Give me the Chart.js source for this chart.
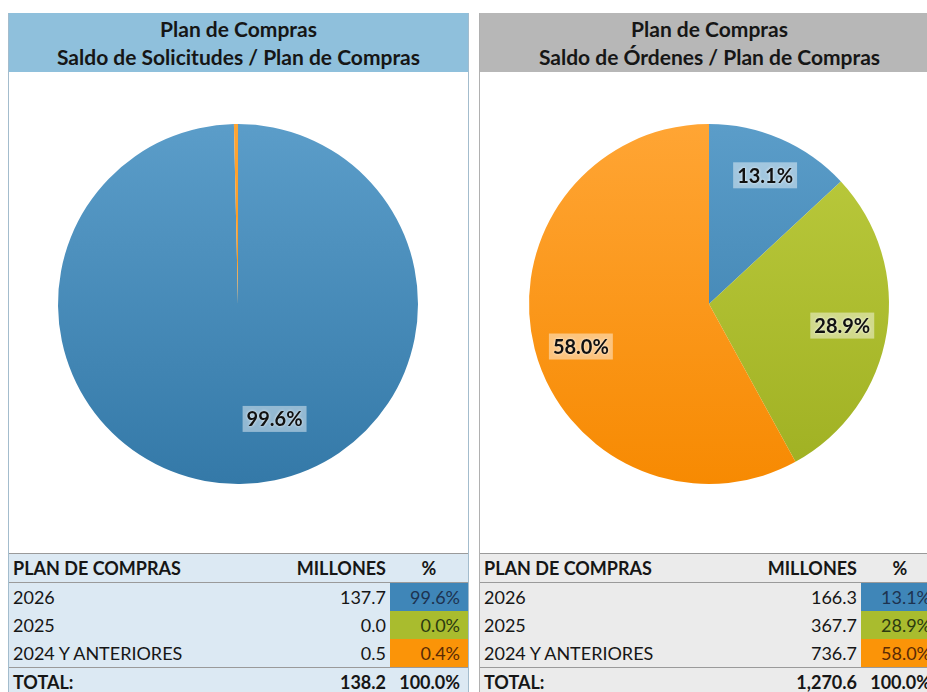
<!DOCTYPE html>
<html>
<head>
<meta charset="utf-8">
<script src="https://cdn.jsdelivr.net/npm/chart.js@4.4.1/dist/chart.umd.min.js"></script>
<style>
	body { margin: 0; background: #ffffff; width: 927px; height: 692px; overflow: hidden; position: relative; font-family: Lato, "Open Sans", sans-serif; color: #161616; }
	.panel { position: absolute; top: 13px; width: 459px; height: 700px; border-left: 1px solid #a3bccd; border-right: 1px solid #a3bccd; }
	.panel.gray { border-color: #b0b0b0; }
	.title { height: 59px; background: #8fc0dc; text-align: center; font-weight: bold; font-size: 21px; line-height: 28px; padding-top: 2px; box-sizing: border-box; }
	.gray .title { background: #b7b7b7; }
	.chartbox { position: relative; height: 481px; background: #ffffff; }
	table { border-collapse: collapse; width: 459px; table-layout: fixed; font-size: 18px; }
	td { height: 28px; padding: 0 4px; white-space: nowrap; }
	.blue table { background: #dce9f3; }
	.gray table { background: #ebebeb; }
	tr.head td { font-weight: bold; border-top: 1px solid #9a9a9a; border-bottom: 1px solid #9a9a9a; }
	tr.total td { font-weight: bold; border-top: 1px solid #9a9a9a; }
	td.num { text-align: right; }
	td.pct { text-align: right; padding-right: 8px; }
	tr.head td.pct { text-align: center; padding-right: 4px; }
</style>
</head>
<body>
<div class="panel blue" style="left:8px">
	<div class="title">Plan de Compras<br>Saldo de Solicitudes / Plan de Compras</div>
	<div class="chartbox"><canvas id="pieSolicitudes"></canvas></div>
	<table id="tblSolicitudes"></table>
</div>
<div class="panel gray" style="left:479px">
	<div class="title">Plan de Compras<br>Saldo de Órdenes / Plan de Compras</div>
	<div class="chartbox"><canvas id="pieOrdenes"></canvas></div>
	<table id="tblOrdenes"></table>
</div>
<script>
// categories shared by both charts
const categories = ['2026', '2025', '2024 Y ANTERIORES'];

// millones
const solicitudesValues = [137.7, 0.0, 0.5];
const solicitudesTotal = 138.2;
const ordenesValues = [166.3, 367.7, 736.7];
const ordenesTotal = 1270.6;

// slice colours: [light, dark] for the vertical shading, plus text colour in the table
const sliceColors = [
	['#5b9dc9', '#3479a8'],
	['#bccb3e', '#9fb022'],
	['#ffa534', '#f78a02']
];
const cellColors = ['#3f86b8', '#a9bc2e', '#fb9408'];
const cellText = ['#1d3350', '#2c3a10', '#5a2a05'];

function pct(v, total) {
	return (v / total * 100).toFixed(1) + '%';
}

// shaded fill per slice, made once the chart area is known
function sliceFill(context) {
	const area = context.chart.chartArea;
	const pair = sliceColors[context.dataIndex];
	if (!area) {
		return pair[1];
	}
	const g = context.chart.ctx.createLinearGradient(0, area.top, 0, area.bottom);
	g.addColorStop(0, pair[0]);
	g.addColorStop(1, pair[1]);
	return g;
}

// percentage labels drawn on the slices, with a soft white box behind
const sliceLabels = {
	id: 'sliceLabels',
	afterDatasetsDraw(chart, args, opts) {
		const ctx = chart.ctx;
		const data = chart.data.datasets[0].data;
		const total = data.reduce((a, b) => a + b, 0);
		const meta = chart.getDatasetMeta(0);
		meta.data.forEach((arc, i) => {
			if (data[i] / total < 0.01) {
				return;
			}
			const p = arc.getProps(['x', 'y', 'startAngle', 'endAngle', 'outerRadius'], true);
			const shift = (opts.angleShift && opts.angleShift[i]) || 0;
			const mid = (p.startAngle + p.endAngle) / 2 + shift * Math.PI / 180;
			const r = p.outerRadius * ((opts.radius && opts.radius[i]) || 0.75);
			const x = p.x + Math.cos(mid) * r;
			const y = p.y + Math.sin(mid) * r;
			const text = pct(data[i], total);
			ctx.save();
			ctx.font = 'bold 20px Lato, "Open Sans", sans-serif';
			const w = ctx.measureText(text).width;
			ctx.fillStyle = 'rgba(255,255,255,0.45)';
			ctx.fillRect(x - w / 2 - 4, y - 13, w + 8, 26);
			ctx.shadowColor = 'rgba(255,255,255,0.9)';
			ctx.shadowBlur = 3;
			ctx.fillStyle = '#111111';
			ctx.textAlign = 'center';
			ctx.textBaseline = 'middle';
			ctx.fillText(text, x, y + 1);
			ctx.restore();
		});
	}
};

function makePie(canvasId, values, labelOpts) {
	return new Chart(document.getElementById(canvasId), {
		type: 'pie',
		data: {
			labels: categories,
			datasets: [{
				data: values,
				backgroundColor: sliceFill,
				borderWidth: 0
			}]
		},
		options: {
			responsive: true,
			maintainAspectRatio: false,
			animation: false,
			layout: {
				padding: { top: 52, bottom: 69, left: 49, right: 50 }
			},
			plugins: {
				legend: { display: false },
				tooltip: { enabled: false },
				sliceLabels: labelOpts
			}
		},
		plugins: [sliceLabels]
	});
}

function fillTable(tableId, values, total) {
	const rows = [];
	rows.push('<colgroup><col style="width:263px"><col style="width:118px"><col style="width:78px"></colgroup>');
	rows.push('<tr class="head"><td>PLAN DE COMPRAS</td><td class="num">MILLONES</td><td class="pct">%</td></tr>');
	categories.forEach((cat, i) => {
		rows.push('<tr><td>' + cat + '</td><td class="num">' + values[i].toFixed(1) + '</td>' +
			'<td class="pct" style="background:' + cellColors[i] + ';color:' + cellText[i] + '">' +
			pct(values[i], total) + '</td></tr>');
	});
	const totalText = total.toLocaleString('en-US', { minimumFractionDigits: 1, maximumFractionDigits: 1 });
	rows.push('<tr class="total"><td>TOTAL:</td><td class="num">' + totalText + '</td><td class="pct">100.0%</td></tr>');
	document.getElementById(tableId).innerHTML = rows.join('');
}

makePie('pieSolicitudes', solicitudesValues, { radius: [0.67], angleShift: [-17] });
makePie('pieOrdenes', ordenesValues, { radius: [0.78, 0.75, 0.75], angleShift: [0, 0, -4] });
fillTable('tblSolicitudes', solicitudesValues, solicitudesTotal);
fillTable('tblOrdenes', ordenesValues, ordenesTotal);
</script>
</body>
</html>
